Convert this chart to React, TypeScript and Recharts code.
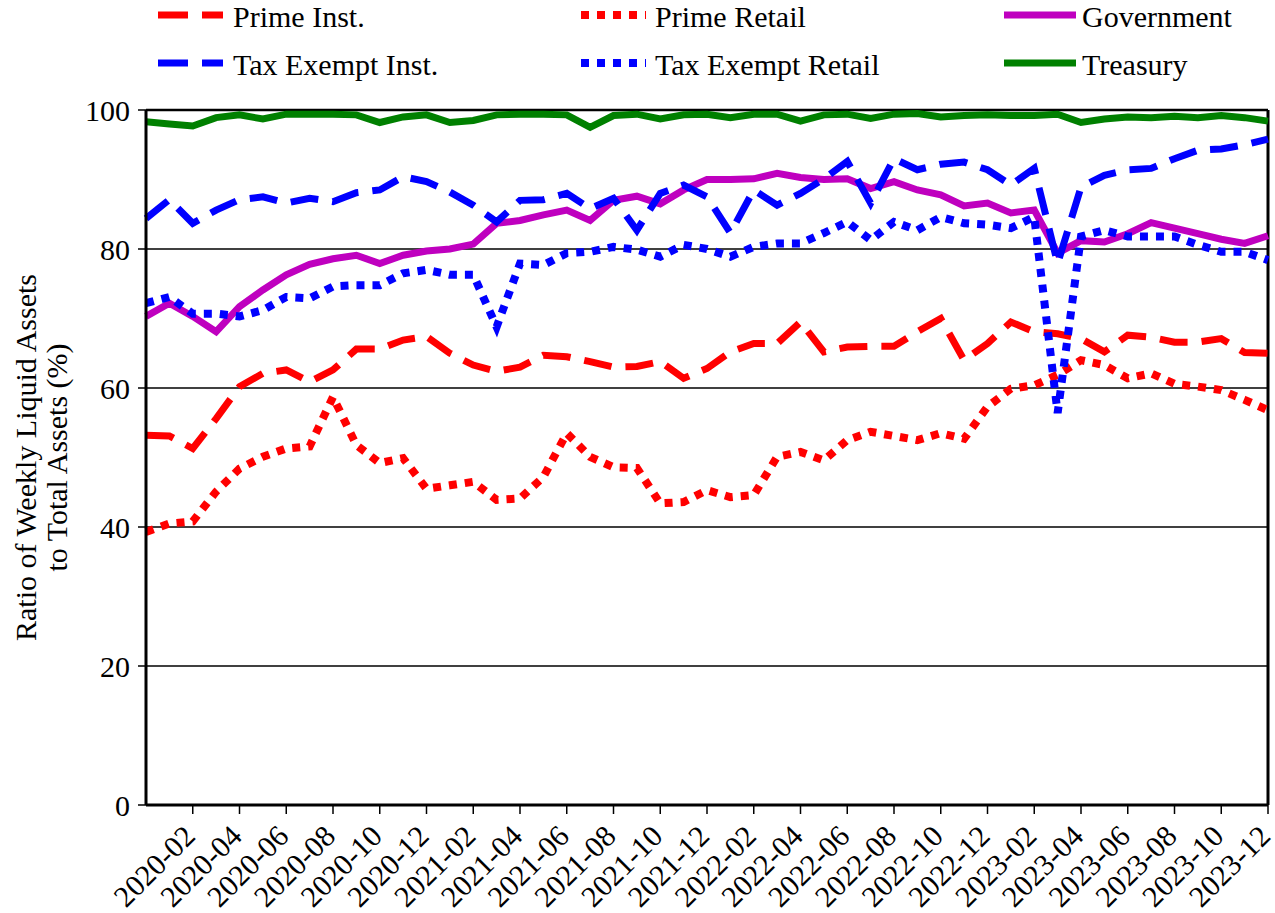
import React from 'react';
import {
  LineChart,
  Line,
  XAxis,
  YAxis,
  CartesianGrid,
  ReferenceLine,
} from 'recharts';

const FONT = '"Liberation Serif", "Times New Roman", serif';

const months = [
  '2019-12',
  '2020-01', '2020-02', '2020-03', '2020-04', '2020-05', '2020-06',
  '2020-07', '2020-08', '2020-09', '2020-10', '2020-11', '2020-12',
  '2021-01', '2021-02', '2021-03', '2021-04', '2021-05', '2021-06',
  '2021-07', '2021-08', '2021-09', '2021-10', '2021-11', '2021-12',
  '2022-01', '2022-02', '2022-03', '2022-04', '2022-05', '2022-06',
  '2022-07', '2022-08', '2022-09', '2022-10', '2022-11', '2022-12',
  '2023-01', '2023-02', '2023-03', '2023-04', '2023-05', '2023-06',
  '2023-07', '2023-08', '2023-09', '2023-10', '2023-11', '2023-12',
];

const xTicks = [
  '2020-02', '2020-04', '2020-06', '2020-08', '2020-10', '2020-12',
  '2021-02', '2021-04', '2021-06', '2021-08', '2021-10', '2021-12',
  '2022-02', '2022-04', '2022-06', '2022-08', '2022-10', '2022-12',
  '2023-02', '2023-04', '2023-06', '2023-08', '2023-10', '2023-12',
];

const yTicks = [0, 20, 40, 60, 80, 100];

const primeInst = [
  53.2, 53.1, 51.3, 55.6, 60.2, 62.1, 62.6, 60.9, 62.6, 65.6, 65.6, 66.9,
  67.4, 65.0, 63.3, 62.4, 63.0, 64.7, 64.5, 63.8, 63.0, 63.1, 63.8, 61.4,
  62.8, 65.2, 66.4, 66.4, 69.5, 65.2, 65.9, 66.0, 66.0, 68.1, 70.0, 64.0,
  66.4, 69.5, 68.1, 67.8, 67.1, 65.2, 67.6, 67.3, 66.6, 66.6, 67.1, 65.1,
  65.0,
];

const primeRetail = [
  39.3, 40.5, 40.8, 45.1, 48.4, 50.1, 51.3, 51.6, 58.7, 51.8, 49.2, 49.9,
  45.5, 46.0, 46.5, 43.9, 44.1, 47.2, 53.5, 50.1, 48.6, 48.5, 43.4, 43.6,
  45.3, 44.3, 44.6, 50.1, 50.8, 49.6, 52.5, 53.7, 53.1, 52.5, 53.5, 52.7,
  57.3, 59.9, 60.4, 61.9, 64.0, 63.3, 61.4, 62.1, 60.6, 60.2, 59.7, 58.3,
  56.8,
];

const government = [
  70.3, 72.2, 70.3, 68.1, 71.7, 74.1, 76.3, 77.8, 78.6, 79.1, 77.9, 79.1,
  79.7, 80.0, 80.7, 83.7, 84.1, 84.9, 85.6, 84.1, 87.0, 87.6, 86.5, 88.5,
  90.0, 90.0, 90.1, 90.9, 90.3, 90.0, 90.1, 88.7, 89.7, 88.5, 87.8, 86.2,
  86.6, 85.2, 85.6, 79.4, 81.2, 81.0, 82.2, 83.8, 83.0, 82.2, 81.4, 80.8,
  81.9,
];

const taxExemptInst = [
  84.4, 87.1, 83.7, 85.6, 87.1, 87.5, 86.6, 87.3, 86.8, 88.1, 88.5, 90.4,
  89.7, 88.2, 86.3, 83.9, 87.0, 87.1, 88.0, 85.8, 87.3, 82.7, 88.0, 89.2,
  87.5, 82.3, 88.5, 86.3, 88.0, 90.1, 92.6, 86.6, 93.0, 91.4, 92.2, 92.5,
  91.4, 89.2, 91.6, 77.9, 88.9, 90.6, 91.4, 91.6, 93.0, 94.2, 94.4, 95.0,
  95.8,
];

const taxExemptRetail = [
  72.2, 73.1, 70.7, 70.7, 70.3, 71.2, 73.1, 72.9, 74.6, 74.8, 74.8, 76.5,
  77.0, 76.3, 76.3, 68.8, 77.9, 77.7, 79.4, 79.6, 80.3, 79.9, 78.9, 80.6,
  80.0, 78.9, 80.3, 80.8, 80.8, 82.3, 83.9, 81.3, 83.9, 82.7, 84.6, 83.7,
  83.5, 83.0, 84.6, 56.4, 81.8, 82.7, 81.8, 81.8, 81.8, 80.6, 79.6, 79.6,
  78.4,
];

const treasury = [
  98.3, 98.0, 97.7, 98.9, 99.3, 98.7, 99.4, 99.4, 99.4, 99.3, 98.2, 99.0,
  99.3, 98.2, 98.5, 99.3, 99.4, 99.4, 99.3, 97.5, 99.2, 99.4, 98.7, 99.3,
  99.4, 98.9, 99.4, 99.4, 98.4, 99.3, 99.4, 98.8, 99.4, 99.5, 99.0, 99.2,
  99.3, 99.2, 99.2, 99.4, 98.2, 98.7, 99.0, 98.9, 99.1, 98.9, 99.2, 98.9,
  98.4,
];

const data = months.map((month, i) => ({
  month,
  primeInst: primeInst[i],
  primeRetail: primeRetail[i],
  government: government[i],
  taxExemptInst: taxExemptInst[i],
  taxExemptRetail: taxExemptRetail[i],
  treasury: treasury[i],
}));

const DASHED = '28 14';
const DOTTED = '8 8';

const series = [
  { key: 'primeInst', name: 'Prime Inst.', color: '#ff0000', dash: DASHED, width: 7 },
  { key: 'primeRetail', name: 'Prime Retail', color: '#ff0000', dash: DOTTED, width: 8 },
  { key: 'government', name: 'Government', color: '#bf00bf', dash: undefined, width: 7 },
  { key: 'taxExemptInst', name: 'Tax Exempt Inst.', color: '#0000ff', dash: DASHED, width: 7 },
  { key: 'taxExemptRetail', name: 'Tax Exempt Retail', color: '#0000ff', dash: DOTTED, width: 8 },
  { key: 'treasury', name: 'Treasury', color: '#008000', dash: undefined, width: 7 },
];

// legend slots: [lineStart, lineEnd, textX, lineY, baselineY]
const legendSlots = [
  [158, 223, 233, 15, 27],
  [581, 646, 655, 15, 27],
  [1004, 1076, 1082, 15, 27],
  [158, 223, 233, 63, 75],
  [581, 646, 655, 63, 75],
  [1004, 1076, 1082, 63, 75],
];

function XTick(props: any) {
  const { x, y, payload } = props;
  const ax = x + 4;
  const ay = y + 22;
  return (
    <text
      x={ax}
      y={ay}
      transform={`rotate(-45 ${ax} ${ay})`}
      textAnchor="end"
      fontSize={30}
      fontFamily={FONT}
      fill="#000"
    >
      {payload.value}
    </text>
  );
}

function YLabel(props: any) {
  const { viewBox } = props;
  const cy = viewBox.y + viewBox.height / 2;
  return (
    <g>
      <text
        x={25}
        y={cy}
        transform={`rotate(-90 25 ${cy})`}
        textAnchor="middle"
        dominantBaseline="central"
        fontSize={30}
        fontFamily={FONT}
        fill="#000"
      >
        Ratio of Weekly Liquid Assets
      </text>
      <text
        x={56}
        y={cy}
        transform={`rotate(-90 56 ${cy})`}
        textAnchor="middle"
        dominantBaseline="central"
        fontSize={30}
        fontFamily={FONT}
        fill="#000"
      >
        to Total Assets (%)
      </text>
    </g>
  );
}

function LegendBlock() {
  return (
    <svg
      width={1275}
      height={95}
      style={{ position: 'absolute', left: 0, top: 0 }}
    >
      {series.map((s, i) => {
        const [x1, x2, tx, ly, by] = legendSlots[i];
        return (
          <g key={s.key}>
            <line
              x1={x1}
              x2={x2}
              y1={ly}
              y2={ly}
              stroke={s.color}
              strokeWidth={s.width}
              strokeDasharray={s.dash === DASHED ? '30 14' : s.dash}
            />
            <text x={tx} y={by} fontSize={30} fontFamily={FONT} fill="#000">
              {s.name}
            </text>
          </g>
        );
      })}
    </svg>
  );
}

export default function App() {
  return (
    <div
      style={{
        position: 'absolute',
        left: 0,
        top: 0,
        width: 1275,
        height: 913,
        background: '#fff',
      }}
    >
      <LineChart
        width={1275}
        height={913}
        data={data}
        margin={{ top: 110, right: 7, bottom: 0, left: 0 }}
      >
        <CartesianGrid vertical={false} stroke="#000" strokeWidth={1.3} />
        <XAxis
          dataKey="month"
          ticks={xTicks}
          interval={0}
          height={108}
          tick={<XTick />}
          tickSize={9}
          tickLine={{ stroke: '#000', strokeWidth: 1.5 }}
          axisLine={{ stroke: '#000', strokeWidth: 3 }}
        />
        <YAxis
          domain={[0, 100]}
          ticks={yTicks}
          width={146}
          tickSize={8}
          tickMargin={8}
          tick={{ fontSize: 30, fontFamily: FONT, fill: '#000' }}
          tickLine={{ stroke: '#000', strokeWidth: 1.5 }}
          axisLine={{ stroke: '#000', strokeWidth: 3 }}
          label={<YLabel />}
        />
        <ReferenceLine y={100} stroke="#000" strokeWidth={2.5} />
        <ReferenceLine x="2023-12" stroke="#000" strokeWidth={3} />
        {series.map((s) => (
          <Line
            key={s.key}
            type="linear"
            dataKey={s.key}
            name={s.name}
            stroke={s.color}
            strokeWidth={s.width}
            strokeDasharray={s.dash}
            dot={false}
            activeDot={false}
            isAnimationActive={false}
          />
        ))}
      </LineChart>
      <LegendBlock />
    </div>
  );
}
